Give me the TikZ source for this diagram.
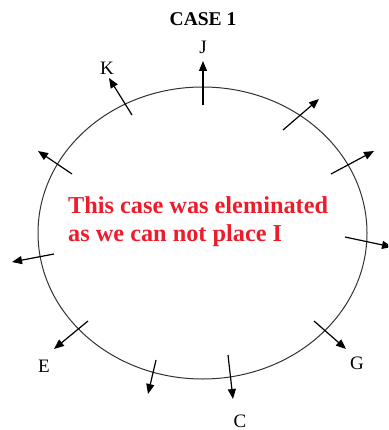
\documentclass[tikz,border=0pt]{standalone}
\usepackage{fontspec}
\setmainfont{Liberation Serif}
\usetikzlibrary{arrows.meta}
\definecolor{warnred}{HTML}{EE1C2B}
\tikzset{
  ray/.style={line width=1.2pt, -{Triangle[length=10pt,width=8pt]}},
  lbl/.style={font=\fontsize{19}{22}\selectfont, inner sep=0pt},
}
\begin{document}
\begin{tikzpicture}[x=1pt,y=-1pt]
\clip (0,0) rectangle (388,430);
\fill[white] (0,0) rectangle (388,430);
\draw[line width=1pt, black!80] (202.5,233) ellipse [x radius=164.5, y radius=146];
\node[font=\bfseries\fontsize{19.5}{22}\selectfont, inner sep=0pt] (title) at (203,19) {CASE 1};
\node[lbl] (J) at (203,47) {J};
\node[lbl] (K) at (107,68) {K};
\node[lbl] (E) at (44,366) {E};
\node[lbl] (G) at (357,363) {G};
\node[lbl] (C) at (240,421) {C};
\node[text=warnred, font=\bfseries\fontsize{24.3}{28}\selectfont, align=left, anchor=west, inner sep=0pt] (msg) at (68,222) {This case was eleminated\\as we can not place I};
% arrows: tail -> head
\coordinate (jt) at (203,105); \coordinate (jh) at (203,61);
\coordinate (kt) at (132,115); \coordinate (kh) at (109,78);
\coordinate (a1t) at (283,130); \coordinate (a1h) at (319,99);
\coordinate (a2t) at (331,174); \coordinate (a2h) at (374,151);
\coordinate (a3t) at (345,237); \coordinate (a3h) at (392,247);
\coordinate (a4t) at (72,174); \coordinate (a4h) at (38,151);
\coordinate (a5t) at (54,254); \coordinate (a5h) at (12,262);
\coordinate (et) at (88,321); \coordinate (eh) at (54,349);
\coordinate (a6t) at (156,360); \coordinate (a6h) at (148,394);
\coordinate (ct) at (228,355); \coordinate (ch) at (233,399);
\coordinate (gt) at (314,321); \coordinate (gh) at (346,349);
\foreach \t/\h in {jt/jh,kt/kh,a1t/a1h,a2t/a2h,a3t/a3h,a4t/a4h,a5t/a5h,et/eh,a6t/a6h,ct/ch,gt/gh}
  \draw[ray] (\t) -- (\h);
\end{tikzpicture}
\end{document}
